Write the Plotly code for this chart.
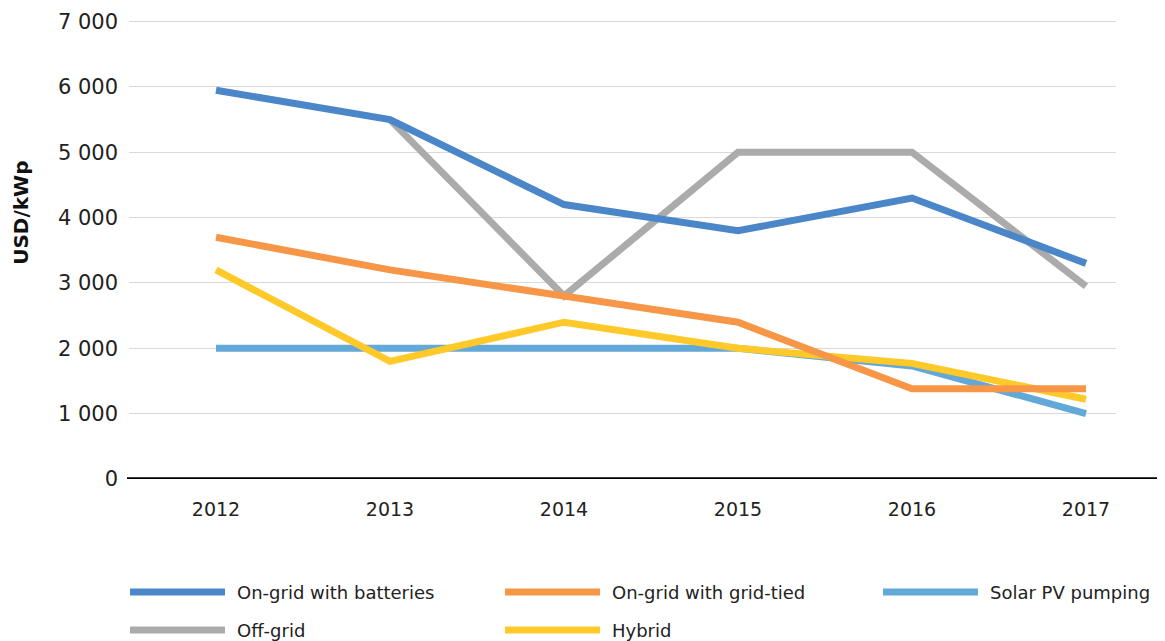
import plotly.graph_objects as go

years = ["2012", "2013", "2014", "2015", "2016", "2017"]

series_names = ["On-grid with batteries", "On-grid with grid-tied", "Solar PV pumping", "Off-grid", "Hybrid"]
on_grid_batteries = [5950, 5500, 4200, 3800, 4300, 3300]
on_grid_grid_tied = [3700, 3200, 2800, 2400, 1380, 1380]
solar_pv_pumping = [2000, 2000, 2000, 2000, 1730, 1000]
off_grid = [None, 5500, 2800, 5000, 5000, 2950]
hybrid = [3200, 1800, 2400, 2000, 1770, 1220]

series_values = [on_grid_batteries, on_grid_grid_tied, solar_pv_pumping, off_grid, hybrid]
colors = ["#4A86C8", "#F79646", "#62A8D8", "#ABABAB", "#FFC929"]

y_ticks = [0, 1000, 2000, 3000, 4000, 5000, 6000, 7000]

# drawing order (bottom to top)
draw_order = [3, 2, 4, 1, 0]

OFF = 8  # page body margin
PAGE_W, PAGE_H = 1165, 641
W, H = PAGE_W - OFF, PAGE_H - OFF
Y_TOP = 7025
PX_PER_UNIT = (479 - 22) / 7000.0
# plot area in page px, converted to figure px
L, R, B = 129 - OFF, 1116 - OFF, 479 - OFF
T = 22 - OFF - (Y_TOP - 7000) * PX_PER_UNIT

fig = go.Figure()
for i in draw_order:
    fig.add_trace(go.Scatter(
        x=years, y=series_values[i], name=series_names[i], mode="lines",
        line=dict(color=colors[i], width=7), connectgaps=False, showlegend=False,
    ))

def px_x(px):  # page px -> paper
    return (px - OFF - L) / (R - L)

def px_y(py):
    return (B - (py - OFF)) / (B - T)

shapes = []
annotations = []
# x-axis baseline (extends to the right edge of the image)
shapes.append(dict(type="line", xref="paper", yref="y", x0=px_x(127), x1=px_x(PAGE_W), y0=0, y1=0,
                   line=dict(color="black", width=3.5), layer="above"))

# legend (two rows, three columns)
col_x = [130, 505, 883]
row_y = [592, 630]
for k, name in enumerate(series_names):
    r, c = divmod(k, 3)
    x0 = col_x[c]
    y = row_y[r]
    shapes.append(dict(type="line", xref="paper", yref="paper",
                       x0=px_x(x0), x1=px_x(x0 + 95), y0=px_y(y), y1=px_y(y),
                       line=dict(color=colors[k], width=7)))
    annotations.append(dict(text=name, xref="paper", yref="paper", x=px_x(x0 + 105), y=px_y(y),
                            xanchor="left", yanchor="middle", showarrow=False,
                            font=dict(family="DejaVu Sans", size=18, color="#222222")))

annotations.append(dict(text="<b>USD/kWp</b>", xref="paper", yref="paper", x=px_x(21), y=px_y(213),
                        xanchor="center", yanchor="middle", textangle=-90, showarrow=False,
                        font=dict(family="DejaVu Sans", size=20, color="#111111")))

fig.update_layout(
    width=W, height=H,
    margin=dict(l=L, r=W - R, t=T, b=H - B, pad=0, autoexpand=False),
    paper_bgcolor="white", plot_bgcolor="white",
    separators=". ",
    showlegend=False,
    shapes=shapes, annotations=annotations,
    xaxis=dict(type="category", range=[-0.5, -0.5 + (R - L) / 174.0], showgrid=False,
               automargin=False,
               showline=False, zeroline=False, ticks="", ticklabelstandoff=17,
               tickfont=dict(family="DejaVu Sans", size=19, color="#222222")),
    yaxis=dict(range=[0, Y_TOP], tickvals=y_ticks, tickformat=",d", showgrid=True,
               automargin=False,
               gridcolor="#D9D9D9", gridwidth=1, zeroline=False, showline=False, ticks="",
               ticklabelstandoff=10,
               tickfont=dict(family="DejaVu Sans", size=21, color="#222222")),
)

fig.write_html("out.html")
